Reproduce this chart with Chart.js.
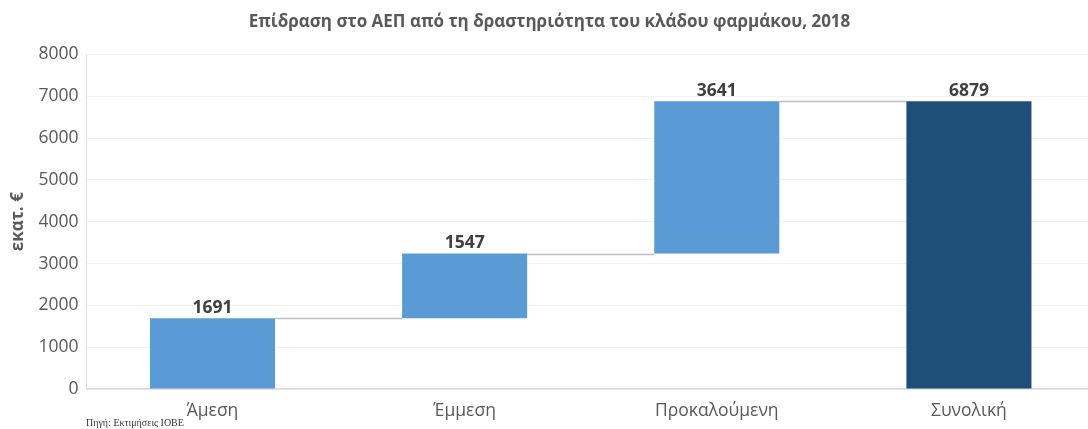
<!DOCTYPE html>
<html>
<head>
<meta charset="utf-8">
<script src="https://cdn.jsdelivr.net/npm/chart.js@4"></script>
<style>
  html, body { margin: 0; padding: 0; background: #fff; overflow: hidden; }
  #wrap { width: 1100px; height: 429px; position: relative; }
</style>
</head>
<body>
<div id="wrap"><canvas id="c"></canvas></div>
<script>
const categories = ['Άμεση', 'Έμμεση', 'Προκαλούμενη', 'Συνολική'];
const increments = [1691, 1547, 3641];
const total = 6879;
const barColors = ['#5B9BD5', '#5B9BD5', '#5B9BD5', '#1F4E79'];
const yTicks = [0, 1000, 2000, 3000, 4000, 5000, 6000, 7000, 8000];

// floating ranges for the waterfall
const ranges = [];
let run = 0;
increments.forEach(v => { ranges.push([run, run + v]); run += v; });
ranges.push([0, total]);
const labels = increments.concat([total]);

const connectors = {
    id: 'connectors',
    beforeDatasetsDraw(chart) {
        const { ctx, scales: { y } } = chart;
        const bars = chart.getDatasetMeta(0).data;
        ctx.save();
        ctx.strokeStyle = '#BFBFBF';
        ctx.lineWidth = 1.5;
        for (let i = 0; i < bars.length - 1; i++) {
            const yy = Math.round(y.getPixelForValue(ranges[i][1])) + 0.5;
            ctx.beginPath();
            ctx.moveTo(bars[i].x + bars[i].width / 2, yy);
            ctx.lineTo(bars[i + 1].x - bars[i + 1].width / 2, yy);
            ctx.stroke();
        }
        ctx.restore();
    },
    afterDatasetsDraw(chart) {
        const { ctx, scales: { y } } = chart;
        const bars = chart.getDatasetMeta(0).data;
        ctx.save();
        ctx.font = 'bold 17.5px "Open Sans"';
        ctx.fillStyle = '#404040';
        ctx.textAlign = 'center';
        ctx.textBaseline = 'bottom';
        bars.forEach((b, i) => {
            ctx.fillText(String(labels[i]), b.x, y.getPixelForValue(ranges[i][1]) - 2);
        });
        ctx.font = '10px "Liberation Serif"';
        ctx.fillStyle = '#333';
        ctx.textAlign = 'left';
        ctx.textBaseline = 'middle';
        ctx.fillText('Πηγή: Εκτιμήσεις ΙΟΒΕ', 86, 423);
        ctx.restore();
    }
};

new Chart(document.getElementById('c'), {
    type: 'bar',
    data: {
        labels: categories,
        datasets: [{
            data: ranges,
            backgroundColor: barColors,
            borderWidth: 0,
            barPercentage: 0.496,
            categoryPercentage: 1
        }]
    },
    options: {
        responsive: true,
        maintainAspectRatio: false,
        animation: false,
        layout: { padding: { left: 4, right: 5, top: 0, bottom: -5 } },
        plugins: {
            legend: { display: false },
            tooltip: { enabled: false },
            title: {
                display: true,
                text: 'Επίδραση στο ΑΕΠ από τη δραστηριότητα του κλάδου φαρμάκου, 2018',
                color: '#595959',
                font: { family: 'Open Sans', size: 17, weight: 'bold' },
                padding: { top: 12, bottom: 22 }
            }
        },
        scales: {
            x: {
                grid: { display: false, drawTicks: false },
                border: { color: '#D9D9D9', width: 1.5 },
                ticks: { color: '#595959', font: { family: 'Open Sans', size: 17.5 }, padding: 12 }
            },
            y: {
                min: 0,
                max: 8000,
                afterBuildTicks: s => { s.ticks = yTicks.map(v => ({ value: v })); },
                grid: { color: '#F2F2F2', drawTicks: false },
                border: { color: '#E0E0E0' },
                ticks: {
                    color: '#595959',
                    font: { family: 'Open Sans', size: 17.5 },
                    padding: 8,
                    callback: v => String(v)
                },
                title: {
                    display: true,
                    text: 'εκατ. €',
                    color: '#595959',
                    font: { family: 'Open Sans', size: 17, weight: 'bold' },
                    padding: { bottom: 2 }
                }
            }
        }
    },
    plugins: [connectors]
});
</script>
</body>
</html>
